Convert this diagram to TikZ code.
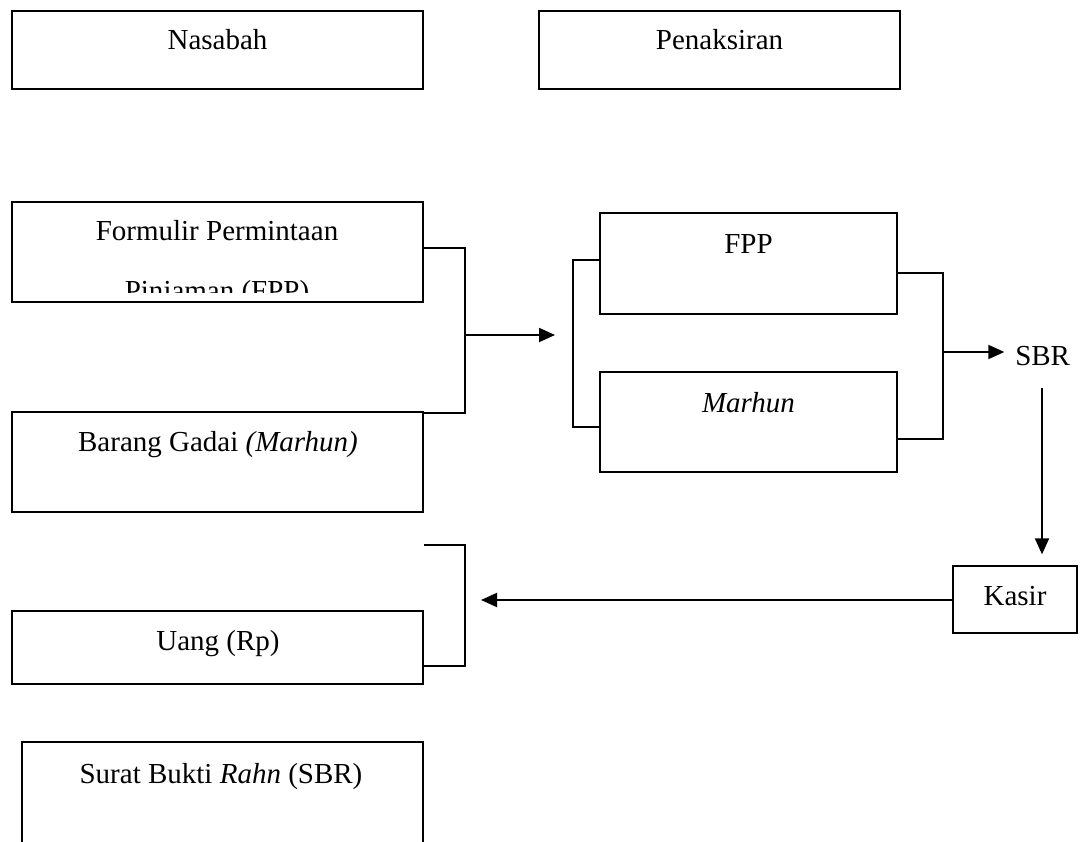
\documentclass[tikz,border=0pt]{standalone}
\usepackage{fontspec}
\setmainfont{Liberation Serif}
\usetikzlibrary{fit,arrows.meta}
\begin{document}
\begin{tikzpicture}[x=0.75pt,y=-0.75pt,
  box/.style={draw=black,line width=1.5pt,inner sep=0pt,rectangle},
  txt/.style={inner sep=0pt,font=\fontsize{21.75}{26}\selectfont,anchor=base},
  conn/.style={draw=black,line width=1.5pt},
  arr/.style={conn,-{Triangle[length=12pt,width=10.5pt]}}]
\useasboundingbox (0,0) rectangle (1086,842);
\fill[white] (0,0) rectangle (1086,842);
\clip (0,0) rectangle (1086,842);
% boxes
\node[box,fit={(12,11)(423,89)}] (nas) {};
\node[box,fit={(539,11)(900,89)}] (pen) {};
\node[box,fit={(12,202)(423,302)}] (form) {};
\node[box,fit={(12,412)(423,512)}] (barang) {};
\node[box,fit={(12,611)(423,684)}] (uang) {};
\node[box,fit={(22,742)(423,848)}] (surat) {};
\node[box,fit={(600,213)(897,314)}] (fpp) {};
\node[box,fit={(600,372)(897,472)}] (marhun) {};
\node[box,fit={(953,566)(1077,633)}] (kasir) {};
% texts
\node[txt] (nasT) at (217.5,50) {Nasabah};
\node[txt] (penT) at (719.5,50) {Penaksiran};
\node[txt] (formT) at (217,240) {Formulir Permintaan};
\begin{scope}
\clip (12,202) rectangle (423,292);
\node[txt] (formT2) at (217,300) {Pinjaman (FPP)};
\end{scope}
\node[txt] (barangT) at (218,451) {Barang Gadai \textit{(Marhun)}};
\node[txt] (uangT) at (218,650) {Uang (Rp)};
\node[txt] (suratT) at (221,783) {Surat Bukti \textit{Rahn} (SBR)};
\node[txt] (fppT) at (748.5,253) {FPP};
\node[txt] (marhunT) at (748.5,412) {\textit{Marhun}};
\node[txt] (kasirT) at (1015,605) {Kasir};
\node[txt,anchor=base west] (sbr) at (1015,365) {SBR};
% bracket coordinates
\coordinate (b1a) at (465,248);
\coordinate (b1b) at (465,413);
\coordinate (b1m) at (465,335);
\coordinate (b2a) at (573,260);
\coordinate (b2b) at (573,427);
\coordinate (b2m) at (573,335);
\coordinate (b3a) at (943,273);
\coordinate (b3b) at (943,439);
\coordinate (b3m) at (943,352);
\coordinate (b4a) at (465,545);
\coordinate (b4b) at (465,666);
\coordinate (b4m) at (481,600);
\coordinate (sbrdown) at (1042,388);
% brackets
\draw[conn] (form.east |- b1a) -- (b1a) -- (b1b) -- (barang.east |- b1b);
\draw[arr] (b1m) -- ([xshift=-13.5pt]b2m);
\draw[conn] (fpp.west |- b2a) -- (b2a) -- (b2b) -- (marhun.west |- b2b);
\draw[conn] (fpp.east |- b3a) -- (b3a) -- (b3b) -- (marhun.east |- b3b);
\draw[arr] (b3m) -- ([xshift=-8pt]sbr.west |- b3m);
\draw[arr] (sbrdown) -- ([yshift=8pt]kasir.north -| sbrdown);
\draw[arr] (kasir.west |- b4m) -- (b4m);
\draw[conn] (uang.east |- b4a) -- (b4a) -- (b4b) -- (uang.east |- b4b);
\end{tikzpicture}
\end{document}
